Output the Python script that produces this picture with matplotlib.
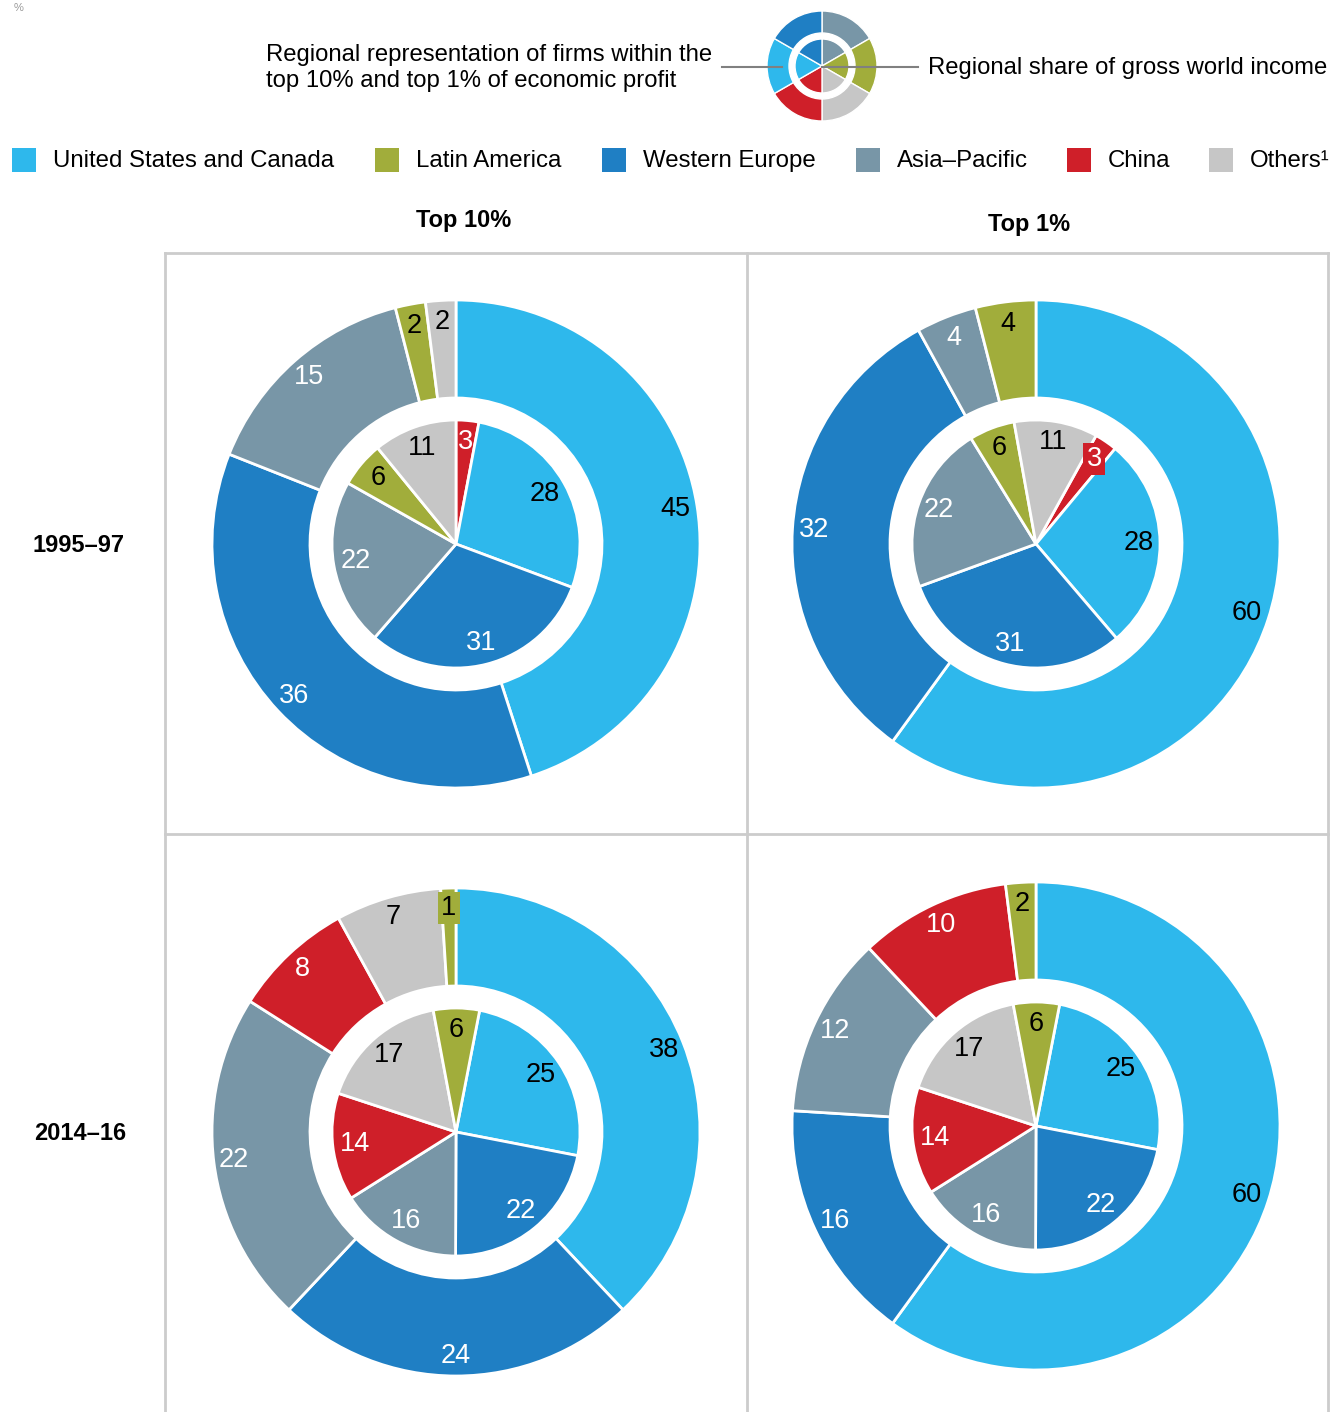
import matplotlib
matplotlib.use("Agg")
import matplotlib.pyplot as plt
import numpy as np

plt.rcParams['font.family'] = ['Liberation Sans', 'DejaVu Sans']

W, H = 1332, 1412

# colours per region
colors = {
    "United States and Canada": "#2EB8EC",
    "Latin America": "#A1AD3B",
    "Western Europe": "#1F7FC4",
    "Asia–Pacific": "#7896A7",
    "China": "#CF1F29",
    "Others": "#C6C6C6",
}
legend_names = ["United States and Canada", "Latin America", "Western Europe",
                "Asia–Pacific", "China", "Others"]
white_text = {"Western Europe", "Asia–Pacific", "China"}

# outer ring: share of firms in top 10% / top 1% (clockwise from 12 o'clock)
outer_regions_tl = ["United States and Canada", "Western Europe", "Asia–Pacific", "Latin America", "Others"]
outer_values_tl = [45, 36, 15, 2, 2]
outer_regions_tr = ["United States and Canada", "Western Europe", "Asia–Pacific", "Latin America"]
outer_values_tr = [60, 32, 4, 4]
outer_regions_bl = ["United States and Canada", "Western Europe", "Asia–Pacific", "China", "Others", "Latin America"]
outer_values_bl = [38, 24, 22, 8, 7, 1]
outer_regions_br = ["United States and Canada", "Western Europe", "Asia–Pacific", "China", "Latin America"]
outer_values_br = [60, 16, 12, 10, 2]

# inner pie: regional share of gross world income
inner_regions_9597 = ["China", "United States and Canada", "Western Europe", "Asia–Pacific", "Latin America", "Others"]
inner_values_9597 = [3, 28, 31, 22, 6, 11]
inner_regions_1416 = ["United States and Canada", "Western Europe", "Asia–Pacific", "China", "Others", "Latin America"]
inner_values_1416 = [25, 22, 16, 14, 17, 6]

col_titles = ["Top 10%", "Top 1%"]
row_titles = ["1995–97", "2014–16"]

fig = plt.figure(figsize=(W / 100, H / 100), dpi=100)
bg = fig.add_axes([0, 0, 1, 1])
bg.set_xlim(0, W)
bg.set_ylim(H, 0)
bg.axis("off")

# panel grid
gc = "#CCCCCC"
bg.plot([165, 1328], [253, 253], color=gc, lw=2)
bg.plot([165, 1328], [834, 834], color=gc, lw=2)
for x in [165, 747, 1328]:
    bg.plot([x, x], [253, H], color=gc, lw=2)

bg.text(464, 220, col_titles[0], ha="center", va="center", fontsize=17, fontweight="bold")
bg.text(1029, 224, col_titles[1], ha="center", va="center", fontsize=17, fontweight="bold")
bg.text(78, 545, row_titles[0], ha="center", va="center", fontsize=17, fontweight="bold")
bg.text(80, 1133, row_titles[1], ha="center", va="center", fontsize=17, fontweight="bold")
bg.text(14, 3, "%", ha="left", va="top", fontsize=8, color="#999999")

# legend row
leg_x = [12, 375, 602, 856, 1067, 1209]
for x, name in zip(leg_x, legend_names):
    bg.add_patch(plt.Rectangle((x, 148), 24, 24, color=colors[name], lw=0))
    label = name + "¹" if name == "Others" else name
    bg.text(x + 41, 161, label, ha="left", va="center", fontsize=17.3)

# explanation text
bg.text(266, 68, "Regional representation of firms within the\ntop 10% and top 1% of economic profit",
        ha="left", va="center", fontsize=17.2, linespacing=1.25)
bg.text(928, 68, "Regional share of gross world income", ha="left", va="center", fontsize=17.2)


R = 244.0  # outer radius in pixels
half = 300.0


def donut_axes(cx, cy):
    ax = fig.add_axes([(cx - half) / W, (H - cy - half) / H, 2 * half / W, 2 * half / H])
    return ax


def finish(ax):
    ax.set_xlim(-half / R, half / R)
    ax.set_ylim(-half / R, half / R)
    ax.set_aspect("equal")
    ax.axis("off")


def draw_ring(ax, regions, values, start, radius, width, label_r, fs=19.5, boxed=()):
    cols = [colors[r] for r in regions]
    wedges, _ = ax.pie(values, colors=cols, radius=radius, startangle=90 - start,
                       counterclock=False,
                       wedgeprops=dict(width=width, edgecolor="white", linewidth=2))
    for w, reg, v in zip(wedges, regions, values):
        ang = np.deg2rad((w.theta1 + w.theta2) / 2)
        x, y = label_r * np.cos(ang), label_r * np.sin(ang)
        tc = "white" if reg in white_text else "black"
        kw = {}
        if reg in boxed:
            kw["bbox"] = dict(boxstyle="square,pad=0.12", fc=colors[reg], ec="none")
        ax.text(x, y, str(v), ha="center", va="center", fontsize=fs, color=tc, **kw)
    finish(ax)


outer_w = 98 / R
inner_r = 124 / R

ax = donut_axes(456, 544)
draw_ring(ax, outer_regions_tl, outer_values_tl, 0, 1.0, outer_w, 222 / R)
draw_ring(ax, inner_regions_9597, inner_values_9597, 0, inner_r, None, 102 / R)

ax = donut_axes(1036, 544)
draw_ring(ax, outer_regions_tr, outer_values_tr, 0, 1.0, outer_w, 222 / R)
draw_ring(ax, inner_regions_9597, inner_values_9597, 29, inner_r, None, 103 / R, boxed=("China",))

ax = donut_axes(456, 1132)
draw_ring(ax, outer_regions_bl, outer_values_bl, 0, 1.0, outer_w, 224 / R, boxed=("Latin America",))
draw_ring(ax, inner_regions_1416, inner_values_1416, 11, inner_r, None, 102 / R)

ax = donut_axes(1036, 1126)
draw_ring(ax, outer_regions_br, outer_values_br, 0, 1.0, outer_w, 222 / R)
draw_ring(ax, inner_regions_1416, inner_values_1416, 11, inner_r, None, 102 / R)

# small key icon
icon_regions = ["Asia–Pacific", "Latin America", "Others", "China",
                "United States and Canada", "Western Europe"]
ri = 55.0
iax = fig.add_axes([(822 - 60) / W, (H - 66 - 60) / H, 120 / W, 120 / H])
iax.pie([1] * 6, colors=[colors[r] for r in icon_regions], radius=1.0, startangle=90,
        counterclock=False, wedgeprops=dict(width=22 / ri, edgecolor="white", linewidth=1))
iax.pie([1] * 6, colors=[colors[r] for r in icon_regions], radius=27 / ri, startangle=90,
        counterclock=False, wedgeprops=dict(edgecolor="white", linewidth=1))
iax.set_xlim(-60 / ri, 60 / ri)
iax.set_ylim(-60 / ri, 60 / ri)
iax.set_aspect("equal")
iax.axis("off")

# leader lines drawn above the icon
lax = fig.add_axes([0, 0, 1, 1])
lax.set_xlim(0, W)
lax.set_ylim(H, 0)
lax.axis("off")
lax.plot([722, 782], [67, 67], color="#808080", lw=1.5)
lax.plot([822, 918], [67, 67], color="#808080", lw=1.5)

fig.savefig("out.png", dpi=100)
